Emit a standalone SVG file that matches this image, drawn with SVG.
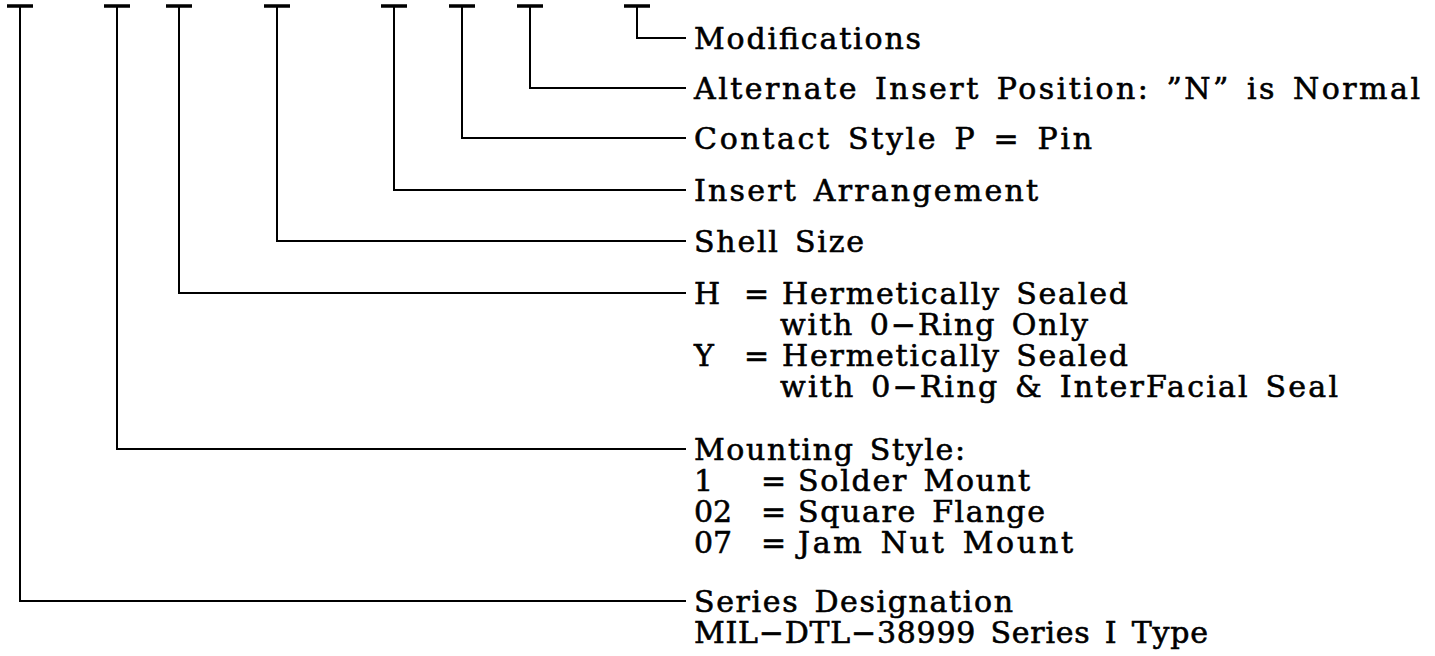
<svg xmlns="http://www.w3.org/2000/svg" width="1435" height="656" viewBox="0 0 1435 656">
<style>
.ln{stroke:#000;stroke-width:2;fill:none}
.bar{stroke:#000;stroke-width:3.5;fill:none}
.t{font-family:"DejaVu Serif","Liberation Serif",serif;font-size:30px;fill:#000;stroke:#000;stroke-width:0.6px;word-spacing:4px}
</style>
<rect width="1435" height="656" fill="#fff"/>
<g id="connectors">
<path class="bar" d="M7 6H33M104 6H130M166 6H192M264 6H290M381 6H407M449 6H475M517 6H543M624 6H650"/>
<path class="ln" d="M637 6V38H686"/>
<path class="ln" d="M530 6V88H686"/>
<path class="ln" d="M462 6V138H686"/>
<path class="ln" d="M394 6V190H686"/>
<path class="ln" d="M277 6V241H686"/>
<path class="ln" d="M179 6V293H686"/>
<path class="ln" d="M117 6V449H686"/>
<path class="ln" d="M20 6V601H686"/>
</g>
<g id="mods"><text class="t" x="694" y="49" textLength="227" lengthAdjust="spacing">Modifications</text></g>
<g id="alt"><text class="t" x="694" y="99" textLength="726" lengthAdjust="spacing">Alternate Insert Position: ”N” is Normal</text></g>
<g id="contact"><text class="t" x="694" y="149" textLength="398" lengthAdjust="spacing">Contact Style P = Pin</text></g>
<g id="insert"><text class="t" x="694" y="201" textLength="344" lengthAdjust="spacing">Insert Arrangement</text></g>
<g id="shell"><text class="t" x="694" y="252" textLength="170" lengthAdjust="spacing">Shell Size</text></g>
<g id="seal">
<text class="t" x="694" y="304"><tspan x="694">H</tspan><tspan x="744">=</tspan><tspan x="782" textLength="346" lengthAdjust="spacing">Hermetically Sealed</tspan></text>
<text class="t" x="780" y="335" textLength="308" lengthAdjust="spacing">with 0−Ring Only</text>
<text class="t" x="694" y="366"><tspan x="694">Y</tspan><tspan x="744">=</tspan><tspan x="782" textLength="346" lengthAdjust="spacing">Hermetically Sealed</tspan></text>
<text class="t" x="780" y="397" textLength="558" lengthAdjust="spacing">with 0−Ring &amp; InterFacial Seal</text>
</g>
<g id="mounting">
<text class="t" x="694" y="460" textLength="271" lengthAdjust="spacing">Mounting Style:</text>
<text class="t" y="491"><tspan x="694">1</tspan><tspan x="761">=</tspan><tspan x="798" textLength="232" lengthAdjust="spacing">Solder Mount</tspan></text>
<text class="t" y="522"><tspan x="694">02</tspan><tspan x="761">=</tspan><tspan x="798" textLength="247" lengthAdjust="spacing">Square Flange</tspan></text>
<text class="t" y="553"><tspan x="694">07</tspan><tspan x="761">=</tspan><tspan x="798" textLength="275" lengthAdjust="spacing">Jam Nut Mount</tspan></text>
</g>
<g id="series">
<text class="t" x="694" y="612" textLength="319" lengthAdjust="spacing">Series Designation</text>
<text class="t" x="694" y="643" textLength="514" lengthAdjust="spacing">MIL−DTL−38999 Series I Type</text>
</g>
</svg>
